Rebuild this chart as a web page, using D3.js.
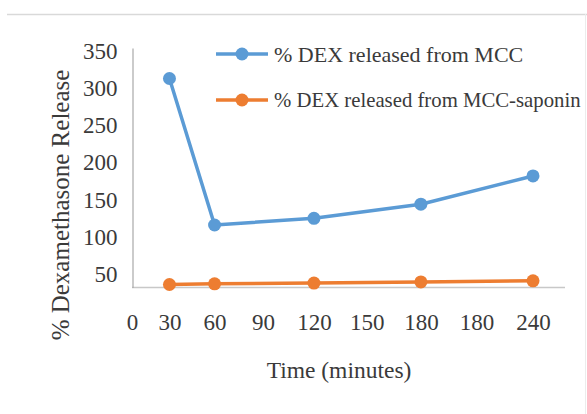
<!DOCTYPE html>
<html>
<head>
<meta charset="utf-8">
<script src="https://cdn.jsdelivr.net/npm/d3@7/dist/d3.min.js"></script>
<style>
  html, body { margin: 0; padding: 0; background: #fff; }
  svg { display: block; }
  text { font-family: "Liberation Serif", "Times New Roman", serif; fill: #3a3a3a; }
</style>
</head>
<body>
<svg id="chart" width="587" height="414"></svg>
<script>
// ---- data ----
const times = [30, 60, 120, 180, 240];
const seriesNames = ["% DEX released from MCC", "% DEX released from MCC-saponin"];
const mccValues = [313, 116, 125, 144, 182];
const saponinValues = [36, 37, 38, 39.5, 41];
const xTickValues = [0, 30, 60, 90, 120, 150, 180, 210, 240];
const xTickLabels = ["0", "30", "60", "90", "120", "150", "180", "180", "240"];
const yTickValues = [50, 100, 150, 200, 250, 300, 350];
const colors = ["#5b9bd5", "#ed7d31"];

const svg = d3.select("#chart");

// border lines of chart area
svg.append("line").attr("x1", 7).attr("x2", 587).attr("y1", 14.5).attr("y2", 14.5)
  .attr("stroke", "#d9d9d9").attr("stroke-width", 1.5);
svg.append("line").attr("x1", 585.5).attr("x2", 585.5).attr("y1", 14).attr("y2", 414)
  .attr("stroke", "#ececec").attr("stroke-width", 1);

const x = d3.scalePow().exponent(1.14).domain([0, 240]).range([132, 533]);
const y = d3.scaleLinear().domain([32, 354]).range([287.5, 48]);

// axes
const xAxis = d3.axisBottom(x).tickValues(xTickValues)
  .tickFormat((d, i) => xTickLabels[i]).tickSize(0).tickPadding(26);
const gx = svg.append("g").attr("transform", `translate(0,${y(32)})`).call(xAxis);
gx.select(".domain").attr("stroke", "#c8c8c8").attr("stroke-width", 1.5)
  .attr("d", `M${x(0)},0H565`);
gx.selectAll("text").style("font-size", "23px").attr("fill", "#3a3a3a")
  .style("font-family", '"Liberation Serif", serif');

const yAxis = d3.axisLeft(y).tickValues(yTickValues).tickSize(0).tickPadding(15);
const gy = svg.append("g").attr("transform", `translate(${x(0) + 0.5},0)`).call(yAxis);
gy.select(".domain").attr("stroke", "#a8a8a8").attr("stroke-width", 1.2);
gy.selectAll("text").style("font-size", "23px").attr("fill", "#3a3a3a")
  .style("font-family", '"Liberation Serif", serif');

// axis titles
svg.append("text").attr("x", 339).attr("y", 370).attr("text-anchor", "middle")
  .attr("dominant-baseline", "central").style("font-size", "23.5px").text("Time (minutes)");
svg.append("text").attr("transform", "translate(60,205) rotate(-90)")
  .attr("text-anchor", "middle").attr("dominant-baseline", "central")
  .style("font-size", "25px").text("% Dexamethasone Release");

// series
const allSeries = [mccValues, saponinValues];
const line = d3.line().x((d, i) => x(times[i])).y(d => y(d));
allSeries.forEach((vals, s) => {
  svg.append("path").datum(vals).attr("d", line).attr("fill", "none")
    .attr("stroke", colors[s]).attr("stroke-width", 3.5).attr("stroke-linejoin", "round");
  svg.selectAll(null).data(vals).enter().append("circle")
    .attr("cx", (d, i) => x(times[i])).attr("cy", d => y(d)).attr("r", 6.5)
    .attr("fill", colors[s]);
});

// legend
const legendX = 216, textOffset = 58, rightLimit = 581;
const legend = svg.append("g").attr("transform", `translate(${legendX},54)`);
seriesNames.forEach((name, i) => {
  const g = legend.append("g").attr("transform", `translate(0,${i * 46})`);
  g.append("line").attr("x1", 0).attr("x2", 52).attr("y1", 0).attr("y2", 0)
    .attr("stroke", colors[i]).attr("stroke-width", 3.5);
  g.append("circle").attr("cx", 26).attr("cy", 0).attr("r", 6.5).attr("fill", colors[i]);
  const t = g.append("text").attr("x", textOffset).attr("y", 0).attr("dominant-baseline", "central")
    .style("font-size", "22px").text(name);
  const maxW = rightLimit - legendX - textOffset;
  let fs = 22;
  while (t.node().getComputedTextLength() > maxW && fs > 10) {
    fs -= 0.25;
    t.style("font-size", fs + "px");
  }
});
</script>
</body>
</html>
